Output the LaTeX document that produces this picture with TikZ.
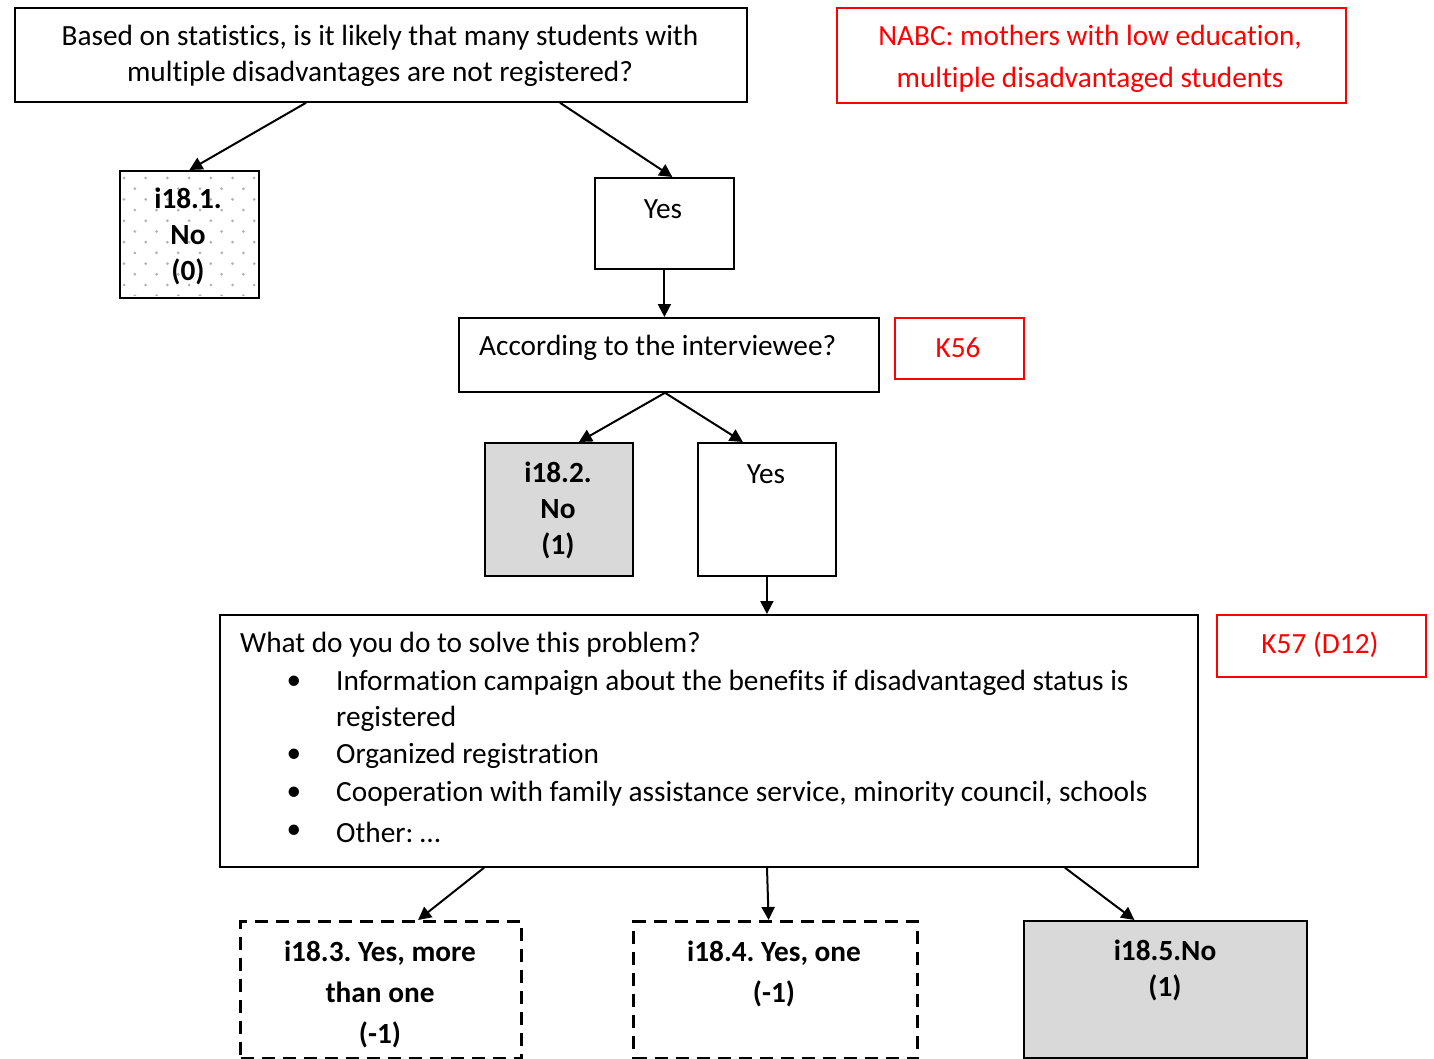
\documentclass[tikz,border=0pt]{standalone}
\usepackage{fontspec}
\setmainfont[Ligatures=NoCommon]{Carlito}
\usetikzlibrary{arrows.meta,calc}
\definecolor{boxgray}{HTML}{D9D9D9}
\definecolor{redc}{HTML}{FF0000}
\begin{document}
\frenchspacing
\begin{tikzpicture}[x=1pt,y=-1pt,
  box/.style={draw, line width=1.8pt, inner sep=0pt, anchor=north west},
  redbox/.style={draw=redc, line width=1.6pt, inner sep=0pt, anchor=north west},
  graybox/.style={box, fill=boxgray},
  dashbox/.style={draw, line width=3.2pt, dash pattern=on 13pt off 8pt, inner sep=0pt, anchor=north west},
  txt/.style={font=\fontsize{29.3}{36}\selectfont, inner sep=0pt, align=center},
  btxt/.style={font=\fontsize{29.3}{36}\selectfont\bfseries, inner sep=0pt, align=center},
  rtxt/.style={font=\fontsize{29.3}{42}\selectfont, text=redc, inner sep=0pt, align=center},
  arr/.style={line width=2pt, -{Triangle[length=13pt,width=13pt]}},
]
\useasboundingbox[fill=white] (0,0) rectangle (1434,1059);

% boxes
\node[box, minimum width=732pt, minimum height=94pt] (q1) at (14,7) {};
\node[redbox, minimum width=509pt, minimum height=95pt] (nabc) at (836,7) {};
\node[box, minimum width=139pt, minimum height=127pt] (n1) at (119,170) {};
\begin{scope}
  \clip (121,172) rectangle (256,295);
  \foreach \r in {0,...,12} {
    \foreach \c in {0,...,7} {
      \pgfmathsetmacro{\xx}{124+\c*21.7+mod(\r,2)*10.85}
      \pgfmathsetmacro{\yy}{178+\r*10.7}
      \fill[gray!60] (\xx,\yy) circle (1.5pt);
    }
  }
\end{scope}
\node[box, minimum width=139pt, minimum height=91pt] (yes1) at (594,177) {};
\node[box, minimum width=420pt, minimum height=74pt] (q2) at (458,317) {};
\node[redbox, minimum width=129pt, minimum height=61pt] (k56) at (894,317) {};
\node[graybox, minimum width=148pt, minimum height=133pt] (n2) at (484,442) {};
\node[box, minimum width=138pt, minimum height=133pt] (yes2) at (697,442) {};
\node[box, minimum width=978pt, minimum height=252pt] (q3) at (219,614) {};
\node[redbox, minimum width=209pt, minimum height=62pt] (k57) at (1216,614) {};
\node[dashbox, minimum width=281pt, minimum height=137pt] (n3) at (239,920) {};
\node[dashbox, minimum width=284pt, minimum height=137pt] (n4) at (632,920) {};
\node[graybox, minimum width=283pt, minimum height=137pt] (n5) at (1023,920) {};

% texts
\node[txt] (t1) at (380,56) {Based on statistics, is it likely that many students with\\multiple disadvantages are not registered?};
\node[rtxt] (tnabc) at (1090,59) {NABC: mothers with low education,\\multiple disadvantaged students};
\node[btxt] (tn1) at (188,236) {i18.1.\\No\\(0)};
\node[txt] (tyes1) at (663,209) {Yes};
\node[txt, anchor=west] (tq2) at (479,348) {According to the interviewee?};
\node[rtxt] (tk56) at (958,348) {K56};
\node[btxt] (tn2) at (558,510) {i18.2.\\No\\(1)};
\node[txt] (tyes2) at (766,474) {Yes};
\node[txt, anchor=west] (tq3) at (240,645) {What do you do to solve this problem?};
\node[txt] (b1) at (294,683) {•};
\node[txt, anchor=west] (l1) at (336,683) {Information campaign about the benefits if disadvantaged status is};
\node[txt, anchor=west] (l1b) at (336,719) {registered};
\node[txt] (b2) at (294,756) {•};
\node[txt, anchor=west] (l2) at (336,756) {Organized registration};
\node[txt] (b3) at (294,794) {•};
\node[txt, anchor=west] (l3) at (336,794) {Cooperation with family assistance service, minority council, schools};
\node[txt] (b4) at (294,832) {•};
\node[txt, anchor=west] (l4) at (336,832) {Other: …};
\node[rtxt] (tk57) at (1320,645) {K57 (D12)};
\node[btxt, font=\fontsize{29.3}{41}\selectfont\bfseries] (tn3) at (380,994) {i18.3. Yes, more\\than one\\(-1)};
\node[btxt, font=\fontsize{29.3}{41}\selectfont\bfseries] (tn4) at (774,974) {i18.4. Yes, one\\(-1)};
\node[btxt] (tn5) at (1165,970) {i18.5.No\\(1)};

% connectors
\draw[arr] ($(q1.south west)+(292,0)$) -- (n1.north);
\draw[arr] ($(q1.south west)+(546,0)$) -- ($(yes1.north)+(8,0)$);
\draw[arr] (yes1.south) -- (q2.north -| yes1.south);
\draw[arr] ($(q2.south west)+(207,0)$) -- ($(n2.north)+(20,0)$);
\draw[arr] ($(q2.south west)+(207,0)$) -- ($(yes2.north)+(-24,0)$);
\draw[arr] (yes2.south) -- (q3.north -| yes2.south);
\draw[arr] ($(q3.south west)+(265,0)$) -- ($(n3.north)+(37,0)$);
\draw[arr] ($(q3.south west)+(548,0)$) -- ($(n4.north)+(-7,0)$);
\draw[arr] ($(q3.south west)+(846,0)$) -- ($(n5.north)+(-31,0)$);
\end{tikzpicture}
\end{document}
